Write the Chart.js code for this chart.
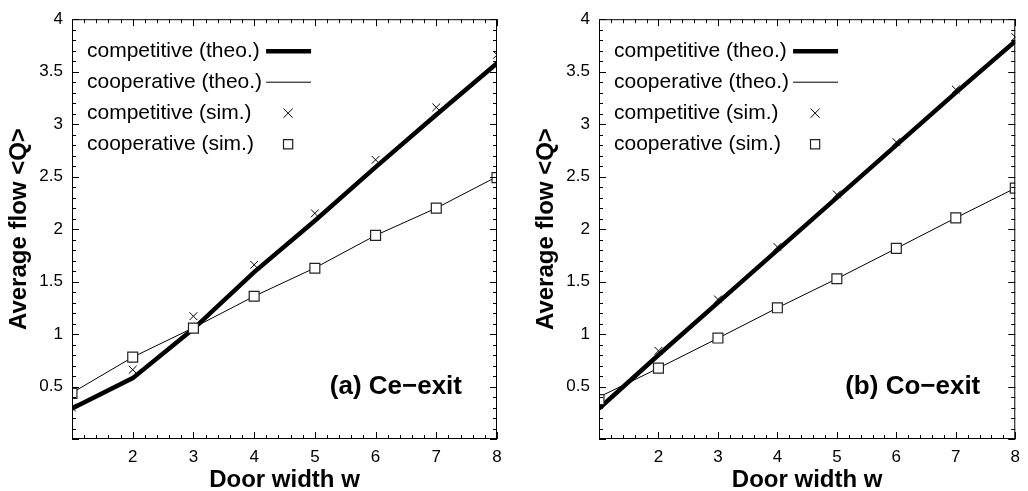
<!DOCTYPE html>
<html><head><meta charset="utf-8">
<script src="https://cdn.jsdelivr.net/npm/chart.js@4/dist/chart.umd.min.js"></script>
<style>
html,body{margin:0;padding:0;background:#fff;width:1028px;height:491px;overflow:hidden}
canvas{position:absolute;top:0}
#ca{left:0}
#cb{left:527px}
</style></head><body>
<canvas id="ca" width="514" height="491"></canvas>
<canvas id="cb" width="501" height="491"></canvas>
<script>
// ---- data ----
const doorWidth = [1, 2, 3, 4, 5, 6, 7, 8];
const xTickValues = [2, 3, 4, 5, 6, 7, 8];
const yTickValues = [0.5, 1, 1.5, 2, 2.5, 3, 3.5, 4];
const seriesLabels = ['competitive (theo.)', 'cooperative (theo.)', 'competitive (sim.)', 'cooperative (sim.)'];
const panelLabels = ['(a) Ce\u2212exit', '(b) Co\u2212exit'];
const xTitle = 'Door width w';
const yTitle = 'Average flow <Q>';

// (a) Ce-exit
const ceCompTheo = [0.29, 0.58, 1.05, 1.59, 2.08, 2.59, 3.09, 3.58];
const ceCoopTheo = [0.44, 0.78, 1.06, 1.36, 1.63, 1.94, 2.20, 2.50];
const ceCompSim  = [0.30, 0.66, 1.17, 1.66, 2.15, 2.66, 3.16, 3.66];
const ceCoopSim  = [0.435, 0.78, 1.056, 1.36, 1.627, 1.94, 2.20, 2.49];
// (b) Co-exit
const coCompTheo = [0.29, 0.80, 1.30, 1.80, 2.30, 2.80, 3.30, 3.79];
const coCoopTheo = [0.40, 0.675, 0.96, 1.25, 1.527, 1.816, 2.107, 2.39];
const coCompSim  = [0.34, 0.84, 1.33, 1.83, 2.33, 2.83, 3.33, 3.83];
const coCoopSim  = [0.376, 0.675, 0.962, 1.25, 1.527, 1.816, 2.107, 2.39];

const FONT = '"Liberation Sans", Arial, Helvetica, sans-serif';

function pts(arr) { return doorWidth.map((w, i) => ({x: w, y: arr[i]})); }

function makeDatasets(compTheo, coopTheo, compSim, coopSim) {
  return [
    {label: seriesLabels[0], data: pts(compTheo), borderColor: '#000', borderWidth: 4.5,
     pointRadius: 0, tension: 0, clip: 0, order: 2, showLine: true},
    {label: seriesLabels[1], data: pts(coopTheo), borderColor: '#000', borderWidth: 1,
     pointRadius: 0, tension: 0, clip: 0, order: 3, showLine: true},
    {label: seriesLabels[2], data: pts(compSim), borderColor: '#000', backgroundColor: '#fff', borderWidth: 1,
     pointStyle: 'crossRot', pointRadius: 5.5, showLine: false, clip: 0, order: 1},
    {label: seriesLabels[3], data: pts(coopSim), borderColor: '#222', backgroundColor: '#fff', borderWidth: 1.2,
     pointStyle: 'rect', pointRadius: 7, showLine: false, clip: 0, order: 0}
  ];
}

const decorPlugin = {
  id: 'decor',
  afterDatasetsDraw(chart) {
    const {ctx, chartArea: a, scales: {x, y}} = chart;
    ctx.save();
    ctx.strokeStyle = '#000';
    ctx.lineWidth = 1;
    ctx.strokeRect(a.left + 0.5, a.top + 0.5, a.right - a.left - 1, a.bottom - a.top - 1);
    ctx.beginPath();
    for (let k = 0; k <= 35; k++) {
      const v = 1 + k * 0.2;
      const px = Math.round(x.getPixelForValue(v)) + 0.5;
      const L = (k % 5 === 0) ? 7 : 4;
      ctx.moveTo(px, a.bottom); ctx.lineTo(px, a.bottom - L);
      ctx.moveTo(px, a.top); ctx.lineTo(px, a.top + L);
    }
    for (let k = 0; k <= 40; k++) {
      const v = k * 0.1;
      const py = Math.round(y.getPixelForValue(v)) + 0.5;
      const L = (k % 5 === 0) ? 7 : 4;
      ctx.moveTo(a.left, py); ctx.lineTo(a.left + L, py);
      ctx.moveTo(a.right, py); ctx.lineTo(a.right - L, py);
    }
    ctx.stroke();
    ctx.restore();
  },
  afterDraw(chart, args, opts) {
    const {ctx, chartArea: a} = chart;
    ctx.save();
    // legend
    ctx.font = '21px ' + FONT;
    ctx.textBaseline = 'middle';
    ctx.textAlign = 'left';
    ctx.fillStyle = '#000';
    const tx = a.left + 15;
    const ds = chart.data.datasets;
    const maxW = Math.max(...ds.map(d => ctx.measureText(d.label).width));
    const sx = tx + maxW + 4;
    ds.forEach((d, i) => {
      const yy = a.top + 32 + 31 * i;
      ctx.fillStyle = '#000';
      ctx.fillText(d.label, tx, yy);
      ctx.strokeStyle = d.borderColor;
      if (d.showLine !== false) {
        ctx.lineWidth = d.borderWidth;
        ctx.beginPath();
        ctx.moveTo(sx, yy); ctx.lineTo(sx + 45, yy);
        ctx.stroke();
      } else {
        ctx.fillStyle = '#fff';
        ctx.lineWidth = d.borderWidth;
        Chart.helpers.drawPoint(ctx, {pointStyle: d.pointStyle, radius: 6.5, borderWidth: d.borderWidth, rotation: 0}, sx + 22, yy);
      }
    });
    // panel label
    ctx.font = 'bold 26px ' + FONT;
    ctx.textAlign = 'right';
    ctx.textBaseline = 'alphabetic';
    ctx.fillStyle = '#000';
    ctx.fillText(opts.panel, a.right - 35, a.bottom - 45);
    ctx.restore();
  }
};

function makeChart(id, datasets, panel, padRight) {
  return new Chart(document.getElementById(id), {
    type: 'line',
    data: {datasets},
    plugins: [decorPlugin],
    options: {
      responsive: false,
      animation: false,
      events: [],
      layout: {padding: {top: 15, right: padRight, left: 0, bottom: 0}},
      plugins: {legend: {display: false}, tooltip: {enabled: false}, decor: {panel}},
      scales: {
        x: {
          type: 'linear', min: 1, max: 8,
          afterBuildTicks: s => { s.ticks = xTickValues.map(v => ({value: v})); },
          afterFit: s => { s.height = 52; },
          grid: {display: false, drawTicks: false},
          border: {display: false},
          ticks: {color: '#000', font: {family: FONT, size: 17}, padding: 8, maxRotation: 0,
                  callback: v => String(v)},
          title: {display: true, text: xTitle, color: '#000',
                  font: {family: FONT, size: 24, weight: 'bold', lineHeight: 1},
                  padding: {top: 0, bottom: -1}}
        },
        y: {
          type: 'linear', min: 0, max: 4,
          afterBuildTicks: s => { s.ticks = yTickValues.map(v => ({value: v})); },
          afterFit: s => { s.width = 72; },
          grid: {display: false, drawTicks: false},
          border: {display: false},
          ticks: {color: '#000', font: {family: FONT, size: 17}, padding: 9,
                  callback: v => String(v)},
          title: {display: true, text: yTitle, color: '#000',
                  font: {family: FONT, size: 24, weight: 'bold', lineHeight: 1},
                  padding: {top: 7, bottom: 0}}
        }
      }
    }
  });
}

makeChart('ca', makeDatasets(ceCompTheo, ceCoopTheo, ceCompSim, ceCoopSim), panelLabels[0], 17);
makeChart('cb', makeDatasets(coCompTheo, coCoopTheo, coCompSim, coCoopSim), panelLabels[1], 5);
</script>
</body></html>
